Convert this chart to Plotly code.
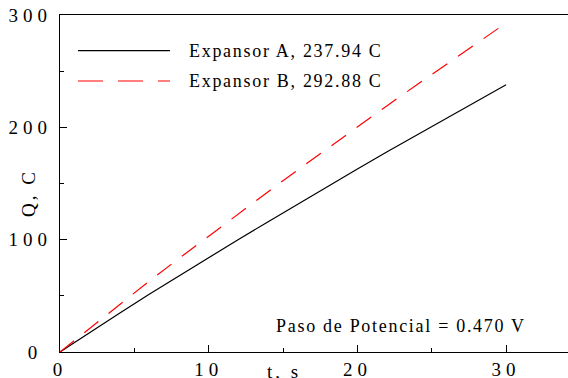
import plotly.graph_objects as go

# ---- data ----
t_s = [0, 2, 4, 6, 8, 10, 12, 14, 16, 18, 20, 22, 24, 26, 28, 30]
q_a = [0, 17.4, 34.5, 51.4, 67.9, 84.1, 100.2, 116.0, 131.9, 147.6,
       163.0, 178.3, 193.4, 208.2, 223.1, 237.94]
q_b = [0, 21.3, 42.4, 63.1, 83.3, 103.3, 123.2, 142.7, 162.2, 181.4,
       200.5, 219.3, 237.9, 256.2, 274.6, 292.88]
series_names = ["Expansor A, 237.94 C", "Expansor B, 292.88 C"]
x_tickvals = [0, 10, 20, 30]
x_ticktext = ["0", "10", "20", "30"]
y_tickvals = [0, 100, 200, 300]
y_ticktext = ["0\u00a0", "100", "200", "300"]
note_text = "Paso de Potencial = 0.470 V"
x_title = "t, s"
y_title = "Q, C"

FONT = "Liberation Serif, Times New Roman, serif"
W, H = 568, 378
ML, MR, MT, MB = 60, 0, 15, 26
PW, PH = W - ML - MR, H - MT - MB
X_MAX = PW / 14.87

def px_x(p):
    return (p - ML) / PW

def px_y(p):
    return (H - MB - p) / PH

fig = go.Figure()
fig.add_trace(go.Scatter(x=t_s, y=q_a, mode="lines", name=series_names[0],
                         line=dict(color="black", width=1.2), showlegend=False))
fig.add_trace(go.Scatter(x=t_s, y=q_b, mode="lines", name=series_names[1],
                         line=dict(color="#ff0000", width=1.2, dash="18px,13px"),
                         showlegend=False))

axis_common = dict(showline=True, linecolor="black", linewidth=1.3,
                   showgrid=False, zeroline=False, ticks="inside",
                   tickcolor="black", tickwidth=1, ticklen=7, automargin=False,
                   tickfont=dict(family=FONT, size=19, color="black"))

fig.update_xaxes(range=[0, X_MAX], tickmode="array", tickvals=x_tickvals,
                 ticktext=x_ticktext, mirror=True, ticklabelstandoff=0,
                 minor=dict(dtick=5, ticks="inside", ticklen=4, tickcolor="black",
                            tickwidth=1, showgrid=False),
                 **axis_common)
fig.update_yaxes(range=[0, 300], tickmode="array", tickvals=y_tickvals,
                 ticktext=y_ticktext, ticklabelstandoff=3,
                 minor=dict(dtick=50, ticks="inside", ticklen=4, tickcolor="black",
                            tickwidth=1, showgrid=False),
                 **axis_common)

# legend drawn as sample lines + labels
leg_y = [50.7, 81]
leg_styles = [dict(color="black", width=1.2), dict(color="#ff0000", width=1.2, dash="25px,15px")]
annos = []
for name, yy, st in zip(series_names, leg_y, leg_styles):
    fig.add_shape(type="line", xref="paper", yref="paper",
                  x0=px_x(78), x1=px_x(170), y0=px_y(yy), y1=px_y(yy), line=st)
    annos.append(dict(text=name, xref="paper", yref="paper", x=px_x(204), y=px_y(yy),
                      xanchor="left", yanchor="middle", showarrow=False,
                      font=dict(family=FONT, size=18, color="black")))

annos.append(dict(text=note_text, xref="paper", yref="paper", x=px_x(401), y=px_y(326),
                  xanchor="center", yanchor="middle", showarrow=False,
                  font=dict(family=FONT, size=18, color="black")))
annos.append(dict(text=x_title, xref="paper", yref="paper", x=px_x(284), y=px_y(371),
                  xanchor="center", yanchor="middle", showarrow=False,
                  font=dict(family=FONT, size=19, color="black")))
annos.append(dict(text=y_title, xref="paper", yref="paper", x=px_x(28), y=px_y(193),
                  xanchor="center", yanchor="middle", showarrow=False, textangle=-90,
                  font=dict(family=FONT, size=19, color="black")))

fig.update_layout(width=W, height=H, margin=dict(l=ML, r=MR, t=MT, b=MB),
                  plot_bgcolor="white", paper_bgcolor="white", annotations=annos,
                  showlegend=False)

spacing = ["1.7px", "1.7px", "1.7px", "3px", "3px"]
post = """
document.body.style.margin = '0';
document.body.style.padding = '0';
var gd = document.getElementById('{plot_id}');
var sp = %s;
gd.querySelectorAll('.xtick text, .ytick text').forEach(function(t){ t.style.letterSpacing = '5px'; });
gd.querySelectorAll('.annotation').forEach(function(a, i){
  a.querySelectorAll('text').forEach(function(t){ t.style.letterSpacing = sp[i]; });
});
""" % str(spacing)

fig.write_html("out.html", post_script=post, config={"displayModeBar": False})
